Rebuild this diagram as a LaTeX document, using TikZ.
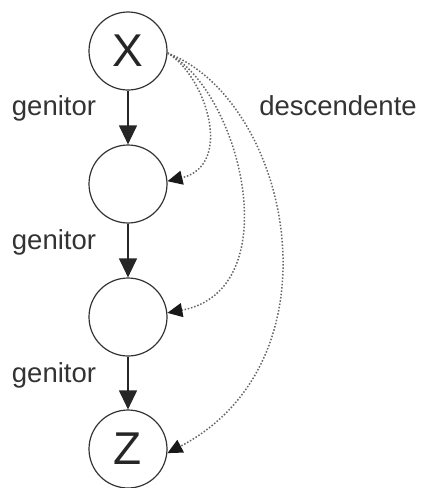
\documentclass[tikz,border=0pt]{standalone}
\usepackage{fontspec}
\setmainfont{Liberation Sans}
\usetikzlibrary{arrows.meta}
\begin{document}
\begin{tikzpicture}[x=1pt,y=-1pt,
  state/.style={circle,draw=black!80,line width=1.2pt,minimum size=78pt,inner sep=0pt,
    font=\fontsize{46}{50}\selectfont,text=black!85},
  lbl/.style={font=\fontsize{27.5}{30}\selectfont,text=black!80,anchor=base,inner sep=0pt},
  parent/.style={line width=1.2pt,draw=black!85,-{Triangle[length=19pt,width=18pt]}},
  desc/.style={line width=1.5pt,draw=black!60,dash pattern=on 1.5pt off 1.8pt,
    -{Triangle[length=15pt,width=14pt,color=black!90]}}]
\useasboundingbox (0,0) rectangle (425,488);
% chain of nodes
\node[state] (X) at (128,51) {X};
\node[state] (A) at (128,184) {};
\node[state] (B) at (128,317) {};
\node[state] (Z) at (128,449) {Z};
% genitor links
\draw[parent] (X) -- (A);
\draw[parent] (A) -- (B);
\draw[parent] (B) -- (Z);
\node[lbl] (g1) at (54,115) {genitor};
\node[lbl] (g2) at (54,249) {genitor};
\node[lbl] (g3) at (54,382) {genitor};
% descendente links
\draw[desc] (X.-3) .. controls (205,75) and (235,165) .. (A.4);
\draw[desc] (X.-3) .. controls (240,90) and (290,290) .. (B.6);
\draw[desc] (X.-3) .. controls (290,100) and (345,360) .. (Z.-6);
\node[lbl] (d) at (338,115) {descendente};
\end{tikzpicture}
\end{document}
